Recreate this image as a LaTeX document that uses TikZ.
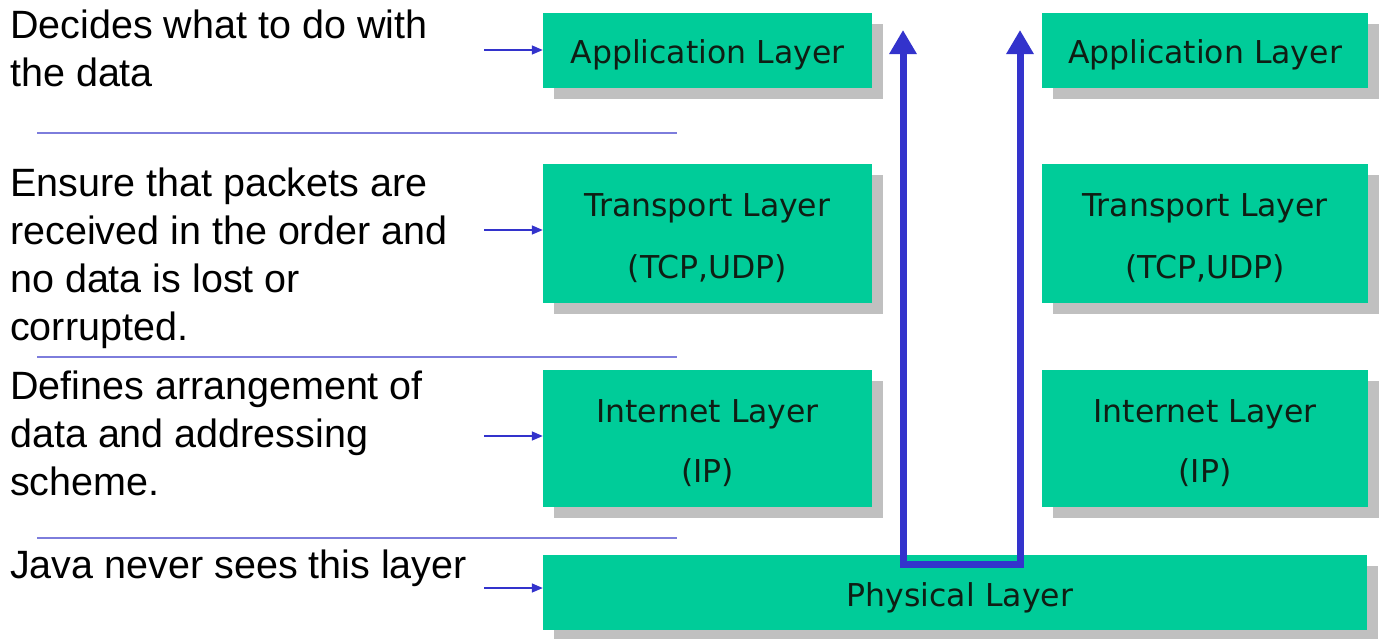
\documentclass[tikz,border=0pt]{standalone}
\usepackage{fontspec}
\setmainfont{Liberation Sans}
\newfontfamily\boxfont{DejaVu Sans}
\usetikzlibrary{arrows.meta,shadows}
\definecolor{lgreen}{RGB}{0,204,153}
\definecolor{arrblue}{RGB}{51,51,204}
\definecolor{sepblue}{RGB}{125,125,220}
\definecolor{shadowgray}{RGB}{192,192,192}
\definecolor{boxtext}{RGB}{15,30,20}
\newcommand{\lyrstrut}{\rule{0pt}{32pt}}
\begin{document}
\begin{tikzpicture}[x=1pt,y=-1pt,
  layer/.style={fill=lgreen, draw=none, inner sep=0pt, anchor=center,
    font=\boxfont\fontsize{31.5}{62}\selectfont, text=boxtext, align=center,
    drop shadow={shadow xshift=11pt, shadow yshift=-11pt, fill=shadowgray, opacity=1}},
  desc/.style={anchor=base west, inner sep=0pt, align=left,
    font=\fontsize{39.5}{48}\selectfont, text=black},
  sepline/.style={draw=sepblue, line width=1.5pt},
  smallarrow/.style={draw=arrblue, line width=1.5pt, -{Triangle[width=9pt,length=11pt]}},
  bigarrow/.style={draw=arrblue, line width=7pt, line join=miter,
    {Triangle[width=26pt,length=24pt]}-{Triangle[width=26pt,length=24pt]}}
]
\useasboundingbox (0,0) rectangle (1393,638);

% layer boxes
\node[layer, minimum width=329pt, minimum height=75pt] (appL) at (707.5,50.5) {\lyrstrut Application Layer};
\node[layer, minimum width=326pt, minimum height=75pt] (appR) at (1205,50.5) {\lyrstrut Application Layer};
\node[layer, minimum width=329pt, minimum height=139pt] (traL) at (707.5,233.5) {\lyrstrut Transport Layer\\(TCP,UDP)};
\node[layer, minimum width=326pt, minimum height=139pt] (traR) at (1205,233.5) {\lyrstrut Transport Layer\\(TCP,UDP)};
\node[layer, minimum width=329pt, minimum height=137pt, font=\boxfont\fontsize{31.5}{60}\selectfont] (intL) at (707.5,438.5) {\lyrstrut Internet Layer\\(IP)};
\node[layer, minimum width=326pt, minimum height=137pt, font=\boxfont\fontsize{31.5}{60}\selectfont] (intR) at (1205,438.5) {\lyrstrut Internet Layer\\(IP)};
\node[layer, minimum width=824pt, minimum height=75pt, text width=824pt] (phy) at (955,592.5) {\hspace*{10pt}\rule{0pt}{34pt}Physical Layer};

% descriptions (anchored at the baseline of their last line)
\node[desc] (d1) at (10,86) {Decides what to do with\\the data};
\node[desc] (d2) at (10,340) {Ensure that packets are\\received in the order and\\no data is lost or\\corrupted.};
\node[desc] (d3) at (10,495) {Defines arrangement of\\data and addressing\\scheme.};
\node[desc] (d4) at (10,578) {Java never sees this layer};

% separators
\coordinate (s1a) at (37,133); \coordinate (s1b) at (677,133);
\coordinate (s2a) at (37,357); \coordinate (s2b) at (677,357);
\coordinate (s3a) at (37,538); \coordinate (s3b) at (677,538);
\draw[sepline] (s1a) -- (s1b);
\draw[sepline] (s2a) -- (s2b);
\draw[sepline] (s3a) -- (s3b);

% small arrows
\coordinate (a1) at (484,50);
\coordinate (a2) at (484,230);
\coordinate (a3) at (484,436);
\coordinate (a4) at (484,588);
\draw[smallarrow] (a1) -- (a1 -| appL.west);
\draw[smallarrow] (a2) -- (a2 -| traL.west);
\draw[smallarrow] (a3) -- (a3 -| intL.west);
\draw[smallarrow] (a4) -- (a4 -| phy.west);

% big U arrow
\coordinate (tipL) at (903,30);
\coordinate (botL) at (903,564);
\coordinate (botR) at (1020,564);
\coordinate (tipR) at (1020,30);
\draw[bigarrow] (tipL) -- (botL) -- (botR) -- (tipR);
\end{tikzpicture}
\end{document}
